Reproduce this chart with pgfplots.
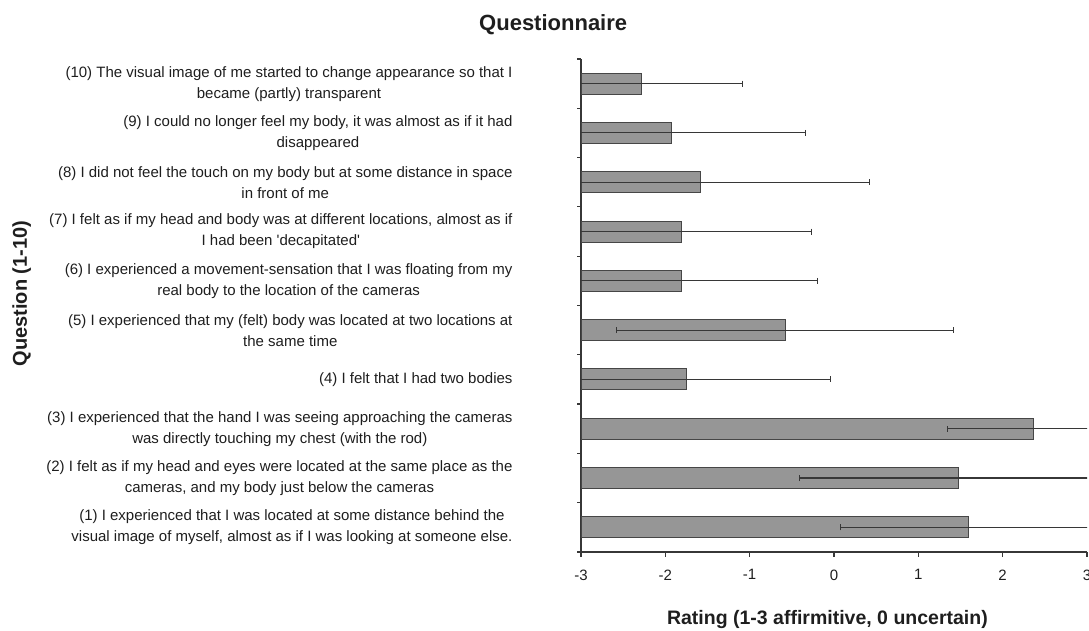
\documentclass[border=0pt]{standalone}
\usepackage{pgfplots}
\pgfplotsset{compat=1.18}
\usepackage{pgfplotstable}
\usepackage{fontspec}
\setmainfont{Liberation Sans}

\definecolor{barfill}{RGB}{150,150,150}
\definecolor{bardraw}{RGB}{70,70,70}
\definecolor{axisgray}{RGB}{55,55,55}
\definecolor{labeltext}{RGB}{30,30,30}

% question number, mean rating, standard deviation
\pgfplotstableread{
q  mean   sd
1   1.60  1.52
2   1.48  1.89
3   2.37  1.02
4  -1.75  1.71
5  -0.58  2.00
6  -1.81  1.61
7  -1.81  1.54
8  -1.58  2.00
9  -1.93  1.59
10 -2.28  1.19
}\ratings

\begin{document}
\begin{tikzpicture}
\path[use as bounding box] (0,0) rectangle (1089pt,631pt);
\begin{axis}[
  at={(581pt,79pt)}, anchor=south west,
  scale only axis, width=506pt, height=493pt,
  % bars grow from the left edge of the scale (rating -3)
  xmin=0, xmax=6, ymin=0.5, ymax=10.5,
  axis lines*=left,
  axis line style={axisgray, line width=1.6pt},
  tick align=outside,
  major tick length=5pt,
  tick style={axisgray, line width=1.2pt},
  xtick={0,...,6},
  xticklabels={-3,-2,-1,0,1,2,3},
  xticklabel style={font=\fontsize{15}{18}\selectfont, text=labeltext, yshift=-9pt},
  ytick={1,...,10},
  ytick style={draw=none},
  minor ytick={0.5,1.5,...,10.5},
  minor y tick style={draw=axisgray, line width=1.2pt},
  minor tick length=4pt,
  yticklabels={
    {(1) I experienced that I was located at some distance behind the\\visual image of myself, almost as if I was looking at someone else.},
    {(2) I felt as if my head and eyes were located at the same place as the\\cameras, and my body just below the cameras},
    {(3) I experienced that the hand I was seeing approaching the cameras\\was directly touching my chest (with the rod)},
    {(4) I felt that I had two bodies},
    {(5) I experienced that my (felt) body was located at two locations at\\the same time},
    {(6) I experienced a movement-sensation that I was floating from my\\real body to the location of the cameras},
    {(7) I felt as if my head and body was at different locations, almost as if\\I had been \textquotesingle decapitated\textquotesingle},
    {(8) I did not feel the touch on my body but at some distance in space\\in front of me},
    {(9) I could no longer feel my body, it was almost as if it had\\disappeared},
    {(10) The visual image of me started to change appearance so that I\\became (partly) transparent}
  },
  yticklabel style={align=center, font=\fontsize{15}{21}\selectfont, text=labeltext, xshift=-60pt},
  title={Questionnaire},
  title style={at={(rel axis cs:-0.055,1.045)}, anchor=base, font=\fontsize{22}{26}\selectfont\bfseries, text=labeltext},
  xlabel={Rating (1-3 affirmitive, 0 uncertain)},
  xlabel style={at={(rel axis cs:0.487,-0.148)}, anchor=base, font=\fontsize{19.5}{23}\selectfont\bfseries, text=labeltext},
  ylabel={Question (1-10)},
  ylabel style={at={(rel axis cs:-1.095,0.524)}, anchor=base, rotate=0, font=\fontsize{20}{24}\selectfont\bfseries, text=labeltext},
]
\addplot[
  xbar, bar width=21pt, bar shift=0pt,
  fill=barfill, draw=bardraw, line width=1pt,
  x filter/.expression={x+3},
  error bars/.cd,
    x dir=both, x explicit,
    error mark=|,
    error bar style={axisgray, line width=1.1pt},
    error mark options={axisgray, line width=1.1pt, mark size=3pt},
] table[x=mean, y=q, x error=sd] {\ratings};
\end{axis}
\end{tikzpicture}
\end{document}
